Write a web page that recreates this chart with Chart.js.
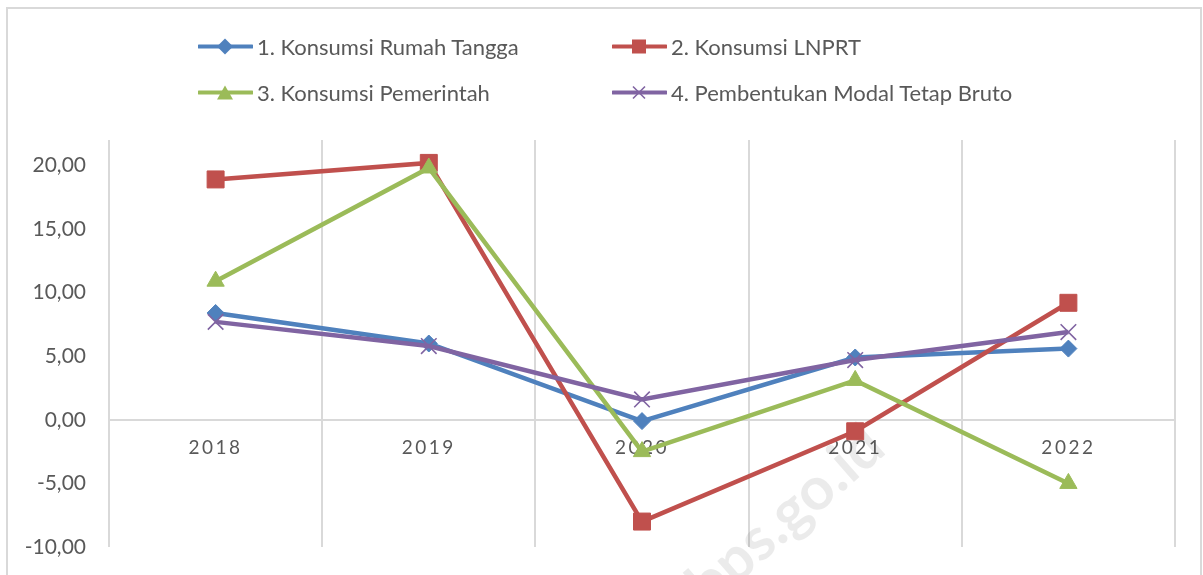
<!DOCTYPE html>
<html>
<head>
<meta charset="utf-8">
<script src="https://cdn.jsdelivr.net/npm/chart.js@4/dist/chart.umd.min.js"></script>
<style>
  html, body { margin: 0; padding: 0; background: #fff; }
  #wrap { position: relative; width: 1203px; height: 575px; overflow: hidden; font-family: Lato, sans-serif; }
  #frame { position: absolute; left: 6px; top: 7px; width: 1196px; height: 620px; border: 2px solid #d9d9d9; box-sizing: border-box; }
  #chart { position: absolute; left: 0; top: 0; }
  .legend-item { position: absolute; display: flex; align-items: center; transform: translateY(-50%); font-size: 22px; color: #595959; white-space: nowrap; }
  .legend-item svg { margin-right: 4px; }
</style>
</head>
<body>
<div id="wrap">
  <div id="frame"></div>
  <canvas id="chart" width="1203" height="575"></canvas>
  <div id="legend"></div>
</div>
<script>
const years = ['2018', '2019', '2020', '2021', '2022'];
const rumahTangga = [8.4, 6.0, -0.1, 4.9, 5.6];
const lnprt = [18.9, 20.2, -8.0, -0.9, 9.2];
const pemerintah = [10.9, 19.8, -2.5, 3.1, -5.0];
const pmtb = [7.7, 5.8, 1.6, 4.7, 6.9];
const yTicks = [-10, -5, 0, 5, 10, 15, 20];

const seriesNames = [
  '1. Konsumsi Rumah Tangga',
  '2. Konsumsi LNPRT',
  '3. Konsumsi Pemerintah',
  '4. Pembentukan Modal Tetap Bruto'
];
const seriesData = [rumahTangga, lnprt, pemerintah, pmtb];
const seriesColors = ['#4f81bd', '#c0504d', '#9bbb59', '#8064a2'];
const pointStyles = ['rectRot', 'rect', 'triangle', 'crossRot'];
const pointRadii = [8.5, 12, 10, 11];

// legend (2 x 2, like the Excel one)
const legendPos = [[198, 46], [612, 46], [198, 92], [612, 92]];
function markerSvg(style, color) {
  let m = '';
  if (style === 'rectRot') m = `<polygon points="27,1 35,9 27,17 19,9" fill="${color}"/>`;
  if (style === 'rect') m = `<rect x="20" y="2" width="14" height="14" fill="${color}"/>`;
  if (style === 'triangle') m = `<polygon points="27,2 35,16 19,16" fill="${color}"/>`;
  if (style === 'crossRot') m = `<path d="M21,3 L33,15 M33,3 L21,15" stroke="${color}" stroke-width="1.6"/>`;
  return `<svg width="55" height="18"><line x1="1" y1="9" x2="54" y2="9" stroke="${color}" stroke-width="4" stroke-linecap="round"/>${m}</svg>`;
}
document.getElementById('legend').innerHTML = seriesNames.map((name, i) => `
  <div class="legend-item" style="left:${legendPos[i][0]}px; top:${legendPos[i][1]}px;">
    ${markerSvg(pointStyles[i], seriesColors[i])}<span>${name}</span>
  </div>`).join('');

// faint source watermark, behind the lines
const watermark = {
  id: 'watermark',
  beforeDatasetsDraw(chart) {
    const c = chart.ctx;
    c.save();
    c.translate(888, 452);
    c.rotate(-0.72);
    c.font = 'bold 60px Lato';
    c.fillStyle = 'rgba(0,0,0,0.08)';
    c.textAlign = 'right';
    c.fillText('bps.go.id', 0, 0);
    c.restore();
  }
};

// letter-spaced year labels
const spacedLabels = {
  id: 'spacedLabels',
  beforeDraw(chart) {
    const xs = chart.scales.x;
    if (xs._spaced) return;
    const orig = xs.drawLabels;
    xs.drawLabels = function (area) {
      this.ctx.save();
      this.ctx.letterSpacing = '2.5px';
      orig.call(this, area);
      this.ctx.letterSpacing = '0px';
      this.ctx.restore();
    };
    xs._spaced = true;
  }
};

new Chart(document.getElementById('chart'), {
  type: 'line',
  data: {
    labels: years,
    datasets: seriesData.map((d, i) => ({
      label: seriesNames[i],
      data: d,
      borderColor: seriesColors[i],
      backgroundColor: seriesColors[i],
      borderWidth: 4.5,
      tension: 0,
      pointStyle: pointStyles[i],
      pointRadius: pointRadii[i],
      pointHoverRadius: pointRadii[i],
      pointBorderWidth: i === 3 ? 1.6 : 1,
      pointBackgroundColor: seriesColors[i],
      pointBorderColor: seriesColors[i],
      order: 3 - i
    }))
  },
  options: {
    responsive: false,
    animation: false,
    layout: { padding: { left: 0, right: 28, top: 140, bottom: 28 } },
    plugins: { legend: { display: false }, tooltip: { enabled: false } },
    scales: {
      x: {
        type: 'category',
        position: { y: 0 },
        offset: true,
        grid: { offset: true, color: '#d9d9d9', lineWidth: 2, drawTicks: false },
        border: { display: true, color: '#d9d9d9', width: 2 },
        ticks: { padding: 17, color: '#595959', font: { family: 'Lato', size: 19 }, maxRotation: 0, autoSkip: false },
        afterFit: s => { s.height = 0; s.paddingTop = 0; s.paddingBottom = 0; }
      },
      y: {
        min: -10,
        max: 22,
        grid: { display: false, drawTicks: false },
        border: { display: false },
        afterBuildTicks: s => { s.ticks = yTicks.map(v => ({ value: v })); },
        afterFit: s => { s.width = 109; s.paddingTop = 0; s.paddingBottom = 0; },
        ticks: {
          padding: 23,
          color: '#595959',
          font: { family: 'Lato', size: 21 },
          callback: v => v.toFixed(2).replace('.', ',')
        }
      }
    }
  },
  plugins: [watermark, spacedLabels]
});
</script>
</body>
</html>
